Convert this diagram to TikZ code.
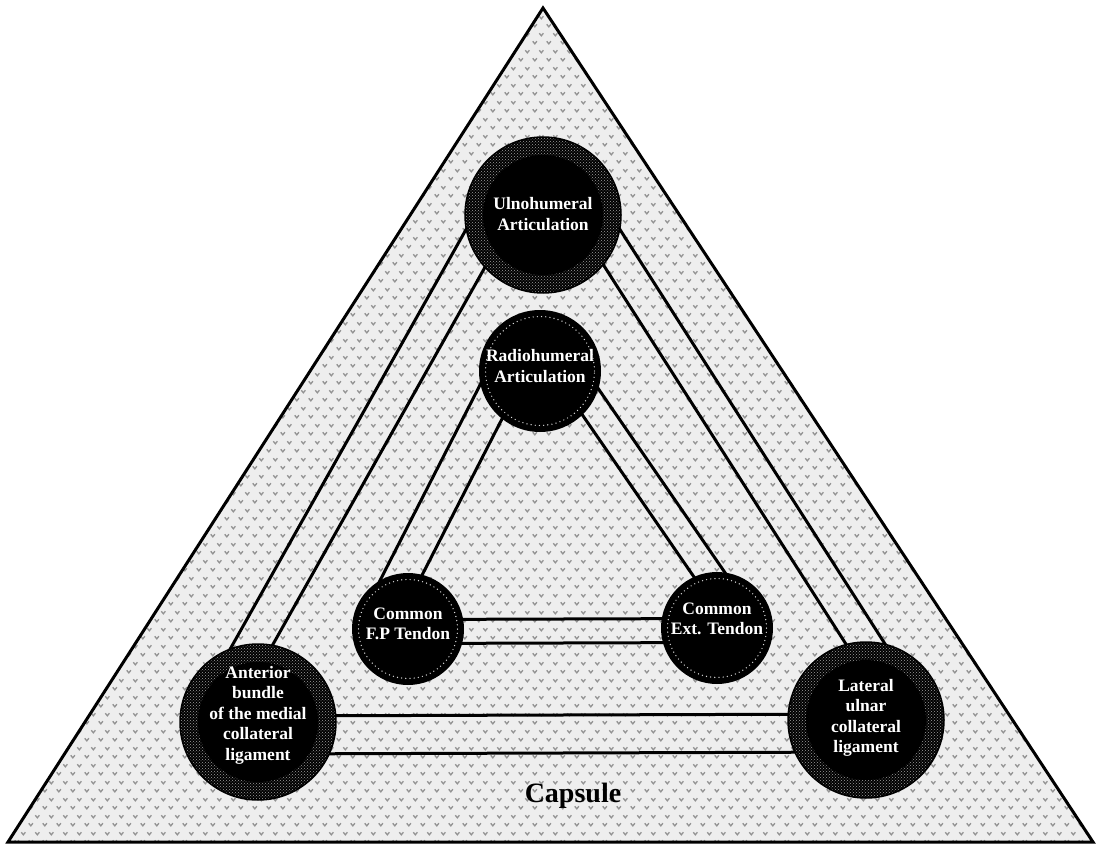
\documentclass[tikz,border=0pt]{standalone}
\usepackage{fontspec}
\setmainfont{Liberation Serif}
\usetikzlibrary{calc,patterns,patterns.meta,backgrounds}

\tikzdeclarepattern{
  name=capsulemarks,
  type=uncolored,
  bounding box={(0pt,0pt) and (14pt,17pt)},
  tile size={(14pt,17pt)},
  code={
    \draw[line width=1.4pt] (0.8pt,5pt) -- (3pt,2.3pt) -- (5.2pt,5pt);
    \draw[line width=1.4pt] (7.8pt,13.5pt) -- (10pt,10.8pt) -- (12.2pt,13.5pt);
  }
}

\tikzset{
  capsulefill/.style={fill=gray!13},
  capsulepat/.style={pattern=capsulemarks, pattern color=gray!85},
  capsuleedge/.style={draw=black, line width=3pt, line join=miter},
  bigjoint/.style={circle, inner sep=0pt, minimum size=156pt, draw=black, line width=1.5pt,
     preaction={fill=black}, pattern=crosshatch dots, pattern color=gray!75},
  smalljoint/.style={circle, inner sep=0pt, minimum size=#1, fill=black},
  innerdisk/.style={fill=black},
  dotring/.style={draw=white!70!gray, line width=1.4pt, dash pattern=on 0pt off 4.2pt, line cap=round},
  conn/.style={draw=black, line width=3pt},
  jointtext/.style={text=white, align=center, font=\bfseries\fontsize{17.5}{20.5}\selectfont},
  capsuletext/.style={text=black, font=\bfseries\fontsize{28}{32}\selectfont}
}

\newcommand\dbline[4]{%
  \draw[conn] ($(#1)!#3!-90:(#2)$) -- ($(#2)!#3!90:(#1)$);
  \draw[conn] ($(#1)!#4!-90:(#2)$) -- ($(#2)!#4!90:(#1)$);
}

\begin{document}
\begin{tikzpicture}[x=1pt,y=-1pt]
\useasboundingbox (0,0) rectangle (1101,845);

% joints
\node[bigjoint] (ulno) at (543,215) {};
\node[smalljoint=122pt] (radio) at (540,371) {};
\node[smalljoint=112pt] (fp) at (408,629) {};
\node[smalljoint=112pt] (ext) at (717,628) {};
\node[bigjoint] (ant) at (258,722) {};
\node[bigjoint] (lat) at (866,720) {};

\fill[innerdisk] (ulno) circle (60pt);
\fill[innerdisk] (ant) circle (60pt);
\fill[innerdisk] (lat) circle (60pt);
\draw[dotring] (radio) circle (54.5pt);
\draw[dotring] (fp) circle (49.5pt);
\draw[dotring] (ext) circle (49.5pt);

\node[jointtext, yshift=1pt] (ulno-t) at (ulno) {Ulnohumeral\\Articulation};
\node[jointtext, yshift=5pt] (radio-t) at (radio) {Radiohumeral\\Articulation};
\node[jointtext, yshift=5pt] (fp-t) at (fp) {Common\\F.P Tendon};
\node[jointtext, yshift=9pt] (ext-t) at (ext) {Common\\Ext. Tendon};
\node[jointtext, yshift=7pt] (ant-t) at (ant) {Anterior\\bundle\\of the medial\\collateral\\ligament};
\node[jointtext, yshift=2pt] (lat-t) at (lat) {Lateral\\ulnar\\collateral\\ligament};

\node[capsuletext] (caps) at (573,796) {Capsule};

\begin{scope}[on background layer]
  \coordinate (apex) at (543,8);
  \coordinate (bl) at (8,842);
  \coordinate (br) at (1093,842);
  \fill[capsulefill] (apex) -- (bl) -- (br) -- cycle;
  \fill[capsulepat] (apex) -- (bl) -- (br) -- cycle;
  \draw[capsuleedge] (apex) -- (bl) -- (br) -- cycle;

  \dbline{ulno}{ant}{25pt}{60pt}
  \dbline{ulno}{lat}{-24pt}{-57pt}
  \dbline{radio}{fp}{12pt}{47pt}
  \dbline{radio}{ext}{-10pt}{-38pt}
  \dbline{fp}{ext}{-9.5pt}{14.5pt}
  \dbline{ant}{lat}{-6pt}{32pt}
\end{scope}
\end{tikzpicture}
\end{document}
